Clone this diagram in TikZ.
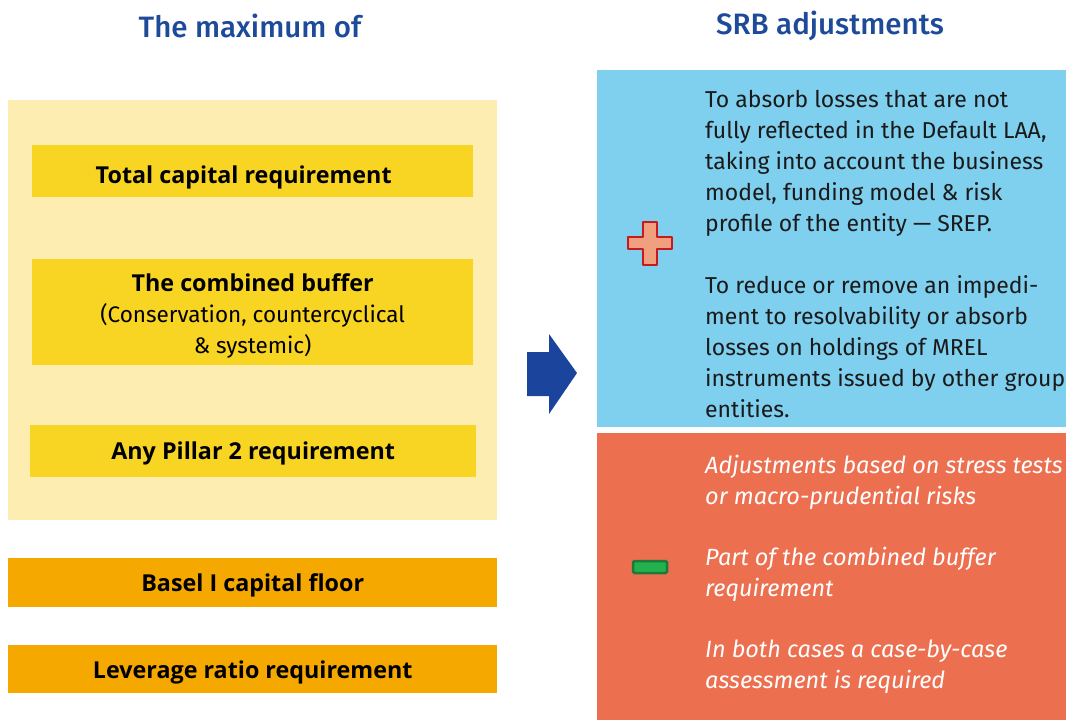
\documentclass[tikz,border=0pt]{standalone}
\usepackage{fontspec}
\setmainfont{Fira Sans}
\newfontfamily\titlefont{Fira Sans Medium}
\newfontfamily\labelfont{Open Sans}
\definecolor{titleblue}{HTML}{1E4A9A}
\definecolor{arrowblue}{HTML}{1B449C}
\definecolor{paleyellow}{HTML}{FDEDB0}
\definecolor{boxyellow}{HTML}{F8D423}
\definecolor{boxorange}{HTML}{F5A800}
\definecolor{skyblue}{HTML}{7FCFEF}
\definecolor{coral}{HTML}{EC6F50}
\definecolor{plusfill}{HTML}{F0A07F}
\definecolor{plusdraw}{HTML}{C8191E}
\definecolor{minusfill}{HTML}{22B14C}
\definecolor{minusdraw}{HTML}{1E7A3C}
\definecolor{textdark}{HTML}{1A1A1A}
\tikzset{
  panel/.style={anchor=north west, inner sep=0pt, outer sep=0pt},
  title/.style={text=titleblue, font=\titlefont\fontsize{29.5}{32}\selectfont},
  reqbox/.style={fill=boxyellow, inner sep=0pt, anchor=north west},
  floorbox/.style={fill=boxorange, inner sep=0pt, anchor=north west},
  reqfont/.style={font=\fontsize{22.5}{31}\selectfont},
  boldlabel/.style={font=\labelfont\bfseries\fontsize{23.3}{31}\selectfont, inner sep=0pt, align=center, text=black},
  bodytext/.style={anchor=north west, align=left, inner sep=0pt, text=textdark, font=\fontsize{23}{31}\selectfont},
  redtext/.style={anchor=north west, align=left, inner sep=0pt, text=white, font=\fontsize{23.5}{31}\selectfont\itshape},
}
\begin{document}
\begin{tikzpicture}[x=1pt,y=-1pt]
\useasboundingbox (0,0) rectangle (1066,720);
\fill[white] (0,0) rectangle (1066,720);
% titles
\node[title] (t1) at (250,26) {The maximum of};
\node[title] (t2) at (830,26) {SRB adjustments};
% left panel
\node[panel, fill=paleyellow, minimum width=489pt, minimum height=420pt] (bg) at (8,100) {};
\node[reqbox, minimum width=441pt, minimum height=52pt] (tcr) at (32,145) {};
\node[boldlabel] (tcrl) at ([xshift=-9pt,yshift=-6pt]tcr.center) {Total capital requirement};
\node[reqbox, minimum width=441pt, minimum height=106pt] (cb) at (32,259) {};
\node[boldlabel, reqfont] (cbl) at ([yshift=-4pt]cb.center) {{\labelfont\bfseries\fontsize{23.3}{31}\selectfont The combined buffer}\\(Conservation, countercyclical\\\& systemic)};
\node[reqbox, minimum width=446pt, minimum height=52pt] (p2) at (30,425) {};
\node[boldlabel] (p2l) at ([yshift=-2pt]p2.center) {Any Pillar 2 requirement};
\node[floorbox, minimum width=489pt, minimum height=49pt] (b1) at (8,558) {};
\node[boldlabel] (b1l) at ([yshift=-3pt]b1.center) {Basel I capital floor};
\node[floorbox, minimum width=489pt, minimum height=48pt] (lr) at (8,645) {};
\node[boldlabel] (lrl) at ([yshift=-3pt]lr.center) {Leverage ratio requirement};
% arrow
\fill[arrowblue] (527,352) -- (549,352) -- (549,334) -- (577,373) -- (549,414) -- (549,396) -- (527,396) -- cycle;
% right panels
\node[panel, fill=skyblue, minimum width=469pt, minimum height=357pt] (blue) at (597,70) {};
\node[panel, fill=coral, minimum width=469pt, minimum height=287pt] (red) at (597,433) {};
% plus icon
\filldraw[fill=plusfill, draw=plusdraw, line width=2.5pt, line join=round]
  (643,222) -- (657,222) -- (657,237) -- (672,237) -- (672,249) -- (657,249) -- (657,265) -- (643,265) -- (643,249) -- (628,249) -- (628,237) -- (643,237) -- cycle;
% minus icon
\filldraw[fill=minusfill, draw=minusdraw, line width=2.5pt, rounded corners=1.5pt] (633,561) rectangle (667,573);
% blue text
\node[bodytext] (bt1) at (705,90) {To absorb losses that are not\\fully reflected in the Default LAA,\\taking into account the business\\model, funding model \& risk\\profile of the entity — SREP.};
\node[bodytext] (bt2) at (705,275) {To reduce or remove an impedi-\\ment to resolvability or absorb\\losses on holdings of MREL\\instruments issued by other group\\entities.};
% red text
\node[redtext] (rt1) at (705,455) {Adjustments based on stress tests\\or macro-prudential risks};
\node[redtext] (rt2) at (705,547) {Part of the combined buffer\\requirement};
\node[redtext] (rt3) at (705,640) {In both cases a case-by-case\\assessment is required};
\end{tikzpicture}
\end{document}
